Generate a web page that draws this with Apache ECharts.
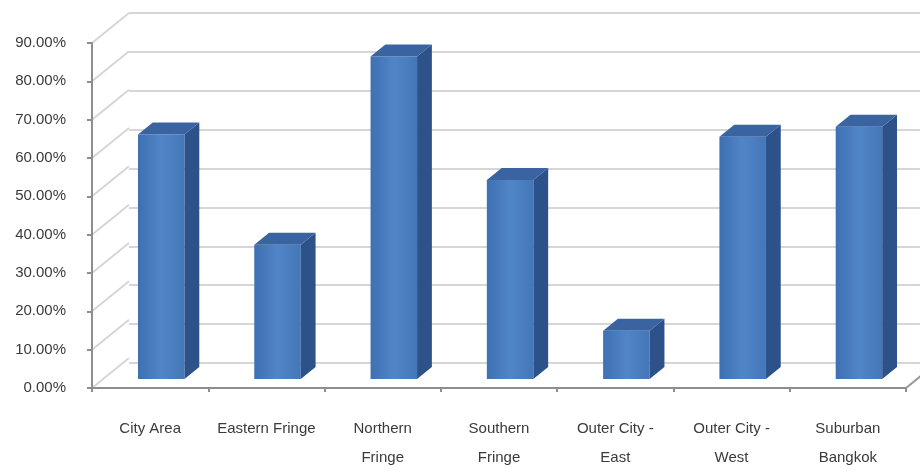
<!DOCTYPE html>
<html>
<head>
<meta charset="utf-8">
<script src="https://cdn.jsdelivr.net/npm/echarts@6/dist/echarts.min.js"></script>
<style>
  html, body { margin: 0; padding: 0; background: #fff; }
  #main { width: 920px; height: 472px; }
</style>
</head>
<body>
<div id="main"></div>
<script>
var myChartMain = echarts.init(document.getElementById('main'));

var areaNames = ['City Area', 'Eastern Fringe', 'Northern\nFringe', 'Southern\nFringe', 'Outer City -\nEast', 'Outer City -\nWest', 'Suburban\nBangkok'];
var areaShare = [63.8, 35.0, 84.1, 51.9, 12.6, 63.2, 65.8];
var tickValues = [0, 10, 20, 30, 40, 50, 60, 70, 80, 90];

// fake 3d: how far the back wall sits from the front plane (px)
var DEPTH_X = 37, DEPTH_Y = -30;
var BAR_FRONT = 0.3, BAR_DEPTH = 0.4;   // fractions of the full depth

var faceColor = new echarts.graphic.LinearGradient(0, 0, 1, 0, [
    {offset: 0, color: '#3e70b2'},
    {offset: 0.5, color: '#5085c7'},
    {offset: 1, color: '#4477b8'}
]);

function renderBar(params, api) {
    var idx = api.value(0);
    var base = api.coord([idx, 0]);
    var top = api.coord([idx, api.value(1)]);
    var band = api.size([1, 0])[0];
    var w = band * 0.4;
    var x0 = base[0] - w / 2 + DEPTH_X * BAR_FRONT;
    var yb = base[1] + DEPTH_Y * BAR_FRONT;
    var yt = top[1] + DEPTH_Y * BAR_FRONT;
    var dx = DEPTH_X * BAR_DEPTH, dy = DEPTH_Y * BAR_DEPTH;
    return {
        type: 'group',
        children: [{
            type: 'rect',
            shape: {x: x0, y: yt, width: w, height: yb - yt},
            style: {fill: faceColor}
        }, {
            type: 'polygon',
            shape: {points: [[x0 + w, yt], [x0 + w + dx, yt + dy], [x0 + w + dx, yb + dy], [x0 + w, yb]]},
            style: {fill: '#2d5289'}
        }, {
            type: 'polygon',
            shape: {points: [[x0, yt], [x0 + dx, yt + dy], [x0 + w + dx, yt + dy], [x0 + w, yt]]},
            style: {fill: '#3a64a1'}
        }]
    };
}

// side wall lines, from the front y axis back to the wall
function renderSideLine(params, api) {
    var p = api.coord([0, api.value(1)]);
    var band = api.size([1, 0])[0];
    var x = p[0] - band / 2;
    return {
        type: 'line',
        shape: {x1: x, y1: p[1], x2: x + DEPTH_X, y2: p[1] + DEPTH_Y},
        style: {stroke: '#d6d6d6', lineWidth: 2}
    };
}

// right edge of the floor
function renderFloorEdge(params, api) {
    var p = api.coord([areaNames.length - 1, 0]);
    var band = api.size([1, 0])[0];
    var x = p[0] + band / 2;
    return {
        type: 'line',
        shape: {x1: x, y1: p[1], x2: x + DEPTH_X, y2: p[1] + DEPTH_Y},
        style: {stroke: '#9a9a9a', lineWidth: 2}
    };
}

option = {
    backgroundColor: '#ffffff',
    animation: false,
    textStyle: {fontFamily: 'Liberation Sans, Arial, sans-serif'},
    grid: [{
        left: 92, top: 43, width: 814, height: 350
    }, {
        left: 92 + DEPTH_X, top: 43 + DEPTH_Y, width: 814, height: 350
    }],
    xAxis: [{
        type: 'category',
        gridIndex: 0,
        data: areaNames,
        axisLine: {lineStyle: {color: '#8e8e8e', width: 2}},
        axisTick: {show: true, length: 4, lineStyle: {color: '#8e8e8e', width: 2}},
        axisLabel: {
            interval: 0,
            margin: 26,
            color: '#3a3a3a',
            fontSize: 15,
            lineHeight: 29
        },
        z: 5
    }, {
        type: 'category',
        gridIndex: 1,
        data: areaNames,
        show: false
    }],
    yAxis: [{
        type: 'value',
        gridIndex: 0,
        min: 0, max: 90, interval: 10,
        splitLine: {show: false},
        axisLine: {show: true, lineStyle: {color: '#8e8e8e', width: 2}},
        axisTick: {show: true, length: 5, lineStyle: {color: '#8e8e8e', width: 2}},
        axisLabel: {
            margin: 26,
            color: '#3a3a3a',
            fontSize: 15,
            formatter: function (v) { return v.toFixed(2) + '%'; }
        },
        z: 5
    }, {
        type: 'value',
        gridIndex: 1,
        min: 0, max: 90, interval: 10,
        axisLine: {show: false},
        axisTick: {show: false},
        axisLabel: {show: false},
        splitLine: {lineStyle: {color: '#d6d6d6', width: 2}}
    }],
    series: [{
        name: 'wall',
        type: 'custom',
        xAxisIndex: 0, yAxisIndex: 0,
        renderItem: renderSideLine,
        clip: false,
        data: tickValues.map(function (v) { return [0, v]; }),
        z: 1
    }, {
        name: 'floor',
        type: 'custom',
        xAxisIndex: 0, yAxisIndex: 0,
        renderItem: renderFloorEdge,
        clip: false,
        data: [[0, 0]],
        z: 1
    }, {
        name: 'share',
        type: 'custom',
        xAxisIndex: 0, yAxisIndex: 0,
        renderItem: renderBar,
        clip: false,
        data: areaShare.map(function (v, i) { return [i, v]; }),
        z: 3
    }]
};

myChartMain.setOption(option);
</script>
</body>
</html>
